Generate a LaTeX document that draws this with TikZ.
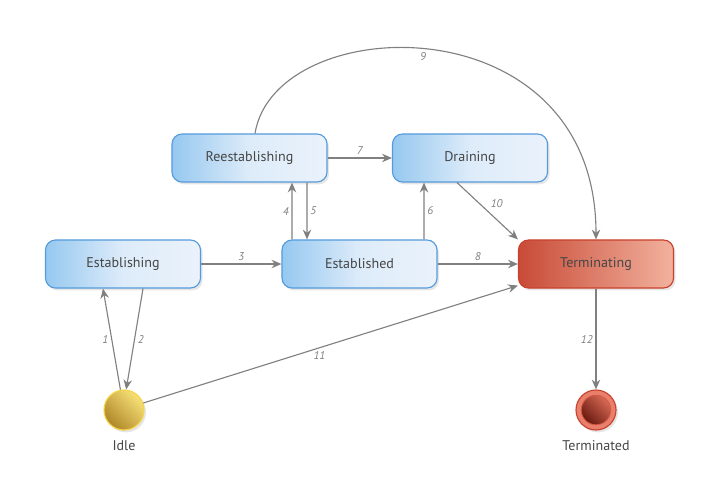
\documentclass[tikz,border=0pt]{standalone}
\usepackage{fontspec}
\setmainfont{PT Sans}
\usetikzlibrary{arrows.meta,calc,shadows}
\definecolor{boxline}{RGB}{85,155,220}
\definecolor{boxdark}{RGB}{150,200,240}
\definecolor{boxlight}{RGB}{234,242,251}
\definecolor{termline}{RGB}{200,65,45}
\definecolor{termdark}{RGB}{200,75,55}
\definecolor{termlight}{RGB}{242,178,158}
\definecolor{edgegray}{RGB}{128,128,128}
\definecolor{txtgray}{RGB}{70,70,70}
\begin{document}
\begin{tikzpicture}[x=0.025cm, y=-0.025cm,
  state/.style={draw=boxline, line width=0.8pt, rounded corners=0.25cm,
    minimum width=3.875cm, minimum height=1.2cm,
    left color=boxdark, right color=boxlight, middle color=boxlight!85!boxdark,
    text=txtgray, font=\normalsize,
    drop shadow={opacity=0.2, shadow xshift=0.05cm, shadow yshift=-0.06cm}},
  endstate/.style={state, draw=termline, left color=termdark,
    middle color=termlight!70!white, right color=termlight},
  edge/.style={draw=edgegray, line width=0.8pt, -{Stealth[length=7pt,width=6pt]}},
  lbl/.style={font=\footnotesize\itshape, text=edgegray, inner sep=2pt},
  caption/.style={text=txtgray, font=\normalsize}]
  \useasboundingbox (0,0) rectangle (720,500);
  % the five states
  \node[state] (rees) at (249.5,158) {Reestablishing};
  \node[state] (drain) at (470,158) {Draining};
  \node[state] (estab) at (123,264) {Establishing};
  \node[state] (est) at (359.5,264) {Established};
  \node[endstate] (term) at (596,264) {Terminating};
  % start circle
  \node[circle, draw={rgb,255:red,245;green,212;blue,70}, line width=0.8pt,
    minimum size=1cm, inner sep=0pt,
    bottom color={rgb,255:red,175;green,135;blue,40},
    top color={rgb,255:red,248;green,225;blue,120}, shading angle=-45,
    drop shadow={opacity=0.2, shadow xshift=0.05cm, shadow yshift=-0.06cm}] (idle) at (124,410) {};
  \node[caption] (idlelbl) at (124,446) {Idle};
  % end circle
  \node[circle, draw=termline, line width=0.8pt, minimum size=1cm, inner sep=0pt,
    fill={rgb,255:red,232;green,128;blue,108},
    drop shadow={opacity=0.2, shadow xshift=0.05cm, shadow yshift=-0.06cm}] (done) at (596,410) {};
  \node[circle, draw={rgb,255:red,215;green,90;blue,70}, line width=0.6pt,
    minimum size=0.74cm, inner sep=0pt,
    bottom color={rgb,255:red,105;green,25;blue,15},
    top color={rgb,255:red,215;green,105;blue,85}, shading angle=-45] (donein) at (596,410) {};
  \node[caption] (donelbl) at (596,446) {Terminated};
  % transitions
  \draw[edge] (idle.100) -- node[lbl, left] {1} ($(estab.south)+(-20,0)$);
  \draw[edge] ($(estab.south)+(20,0)$) -- node[lbl, right] {2} (idle.84);
  \draw[edge] (estab.east) -- node[lbl, above] {3} (est.west);
  \draw[edge] ($(est.north)+(-67.5,0)$) -- node[lbl, left] {4} ($(rees.south)+(42.5,0)$);
  \draw[edge] ($(rees.south)+(57.5,0)$) -- node[lbl, right] {5} ($(est.north)+(-52.5,0)$);
  \draw[edge] ($(est.north)+(64.5,0)$) -- node[lbl, right] {6} ($(drain.south)+(-46,0)$);
  \draw[edge] (rees.east) -- node[lbl, above] {7} (drain.west);
  \draw[edge] (est.east) -- node[lbl, above] {8} (term.west);
  \draw[edge] ($(rees.north)+(5.5,0)$) .. controls (275,10) and (596,0) .. node[lbl, below, pos=0.48] {9} (term.north);
  \draw[edge] ($(drain.south)+(-13,0)$) -- node[lbl, above right] {10} (term.north west);
  \draw[edge] (idle.20) -- node[lbl, below, pos=0.47] {11} ($(term.south west)+(0,-3)$);
  \draw[edge] (term.south) -- node[lbl, left] {12} (done.north);
\end{tikzpicture}
\end{document}
